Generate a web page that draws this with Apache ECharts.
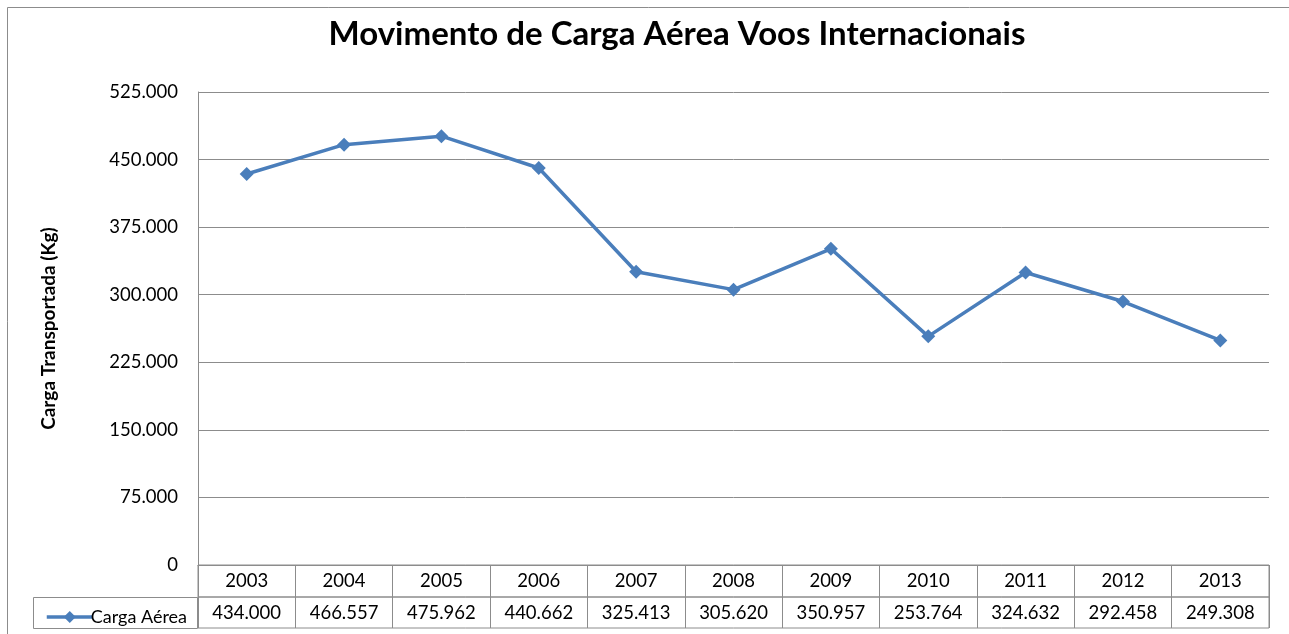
<!DOCTYPE html>
<html>
<head>
<meta charset="utf-8">
<script src="https://cdn.jsdelivr.net/npm/echarts@6/dist/echarts.min.js"></script>
<style>
  html, body { margin: 0; padding: 0; background: #fff; }
  #chart { width: 1289px; height: 634px; }
</style>
</head>
<body>
<div id="chart"></div>
<script>
// dados
var anos = ["2003", "2004", "2005", "2006", "2007", "2008", "2009", "2010", "2011", "2012", "2013"];
var cargaAerea = [434000, 466557, 475962, 440662, 325413, 305620, 350957, 253764, 324632, 292458, 249308];
var yTicks = { min: 0, max: 525000, step: 75000 };

// 434000 -> "434.000"
function fmt(v) {
  return String(v).replace(/\B(?=(\d{3})+(?!\d))/g, ".");
}

var myChart = echarts.init(document.getElementById("chart"));
var gray = "#8c8c8c";
var font = "Lato, 'Open Sans', sans-serif";

var option = {
  backgroundColor: "#fff",
  textStyle: { fontFamily: font },
  title: {
    text: "Movimento de Carga Aérea Voos Internacionais",
    left: 672,
    top: 13,
    textAlign: "center",
    textStyle: { fontSize: 33, fontWeight: "bold", color: "#000", fontFamily: font }
  },
  legend: {
    left: 40,
    top: 603,
    itemWidth: 46,
    itemHeight: 15,
    itemGap: 4,
    data: ["Carga Aérea"],
    lineStyle: { width: 3.5 },
    textStyle: { fontSize: 18, color: "#000", padding: [0, 0, 0, -7] }
  },
  graphic: [
    // moldura da área do gráfico
    { type: "rect", shape: { x: 7.5, y: 7.5, width: 1330, height: 700 },
      style: { fill: "none", stroke: gray, lineWidth: 1 }, silent: true },
    // célula da legenda na tabela
    { type: "rect", shape: { x: 33.5, y: 597.5, width: 164, height: 31 },
      style: { fill: "none", stroke: gray, lineWidth: 1 }, silent: true }
  ],
  grid: [
    { left: 198, top: 92, width: 1071, height: 473 },
    { left: 198, top: 565, width: 1071, height: 32, show: true, borderColor: gray, borderWidth: 1 },
    { left: 198, top: 597, width: 1071, height: 31, show: true, borderColor: gray, borderWidth: 1 }
  ],
  xAxis: [
    {
      gridIndex: 0, type: "category", data: anos, boundaryGap: true,
      axisLine: { lineStyle: { color: gray } },
      axisTick: { show: false }, axisLabel: { show: false }, splitLine: { show: false }
    },
    {
      gridIndex: 1, type: "category", data: anos, boundaryGap: true,
      axisLine: { show: false }, axisTick: { show: false },
      axisLabel: { inside: true, margin: 16, verticalAlign: "middle", interval: 0, fontSize: 18.5, color: "#000" },
      splitLine: { show: true, interval: 0, lineStyle: { color: gray } }
    },
    {
      gridIndex: 2, type: "category", data: cargaAerea.map(fmt), boundaryGap: true,
      axisLine: { show: false }, axisTick: { show: false },
      axisLabel: { inside: true, margin: 15, verticalAlign: "middle", interval: 0, fontSize: 18.5, color: "#000" },
      splitLine: { show: true, interval: 0, lineStyle: { color: gray } }
    }
  ],
  yAxis: [
    {
      gridIndex: 0, type: "value",
      min: yTicks.min, max: yTicks.max, interval: yTicks.step,
      name: "Carga Transportada (Kg)",
      nameLocation: "middle",
      nameGap: 140,
      nameTextStyle: { fontSize: 19, fontWeight: "bold", color: "#000" },
      axisLine: { show: true, lineStyle: { color: gray } },
      axisTick: { show: false },
      axisLabel: { margin: 20, fontSize: 18.5, color: "#000", formatter: fmt },
      splitLine: { lineStyle: { color: gray } }
    },
    { gridIndex: 1, type: "value", show: false },
    { gridIndex: 2, type: "value", show: false }
  ],
  series: [
    {
      name: "Carga Aérea",
      type: "line",
      xAxisIndex: 0,
      yAxisIndex: 0,
      data: cargaAerea,
      symbol: "diamond",
      symbolSize: 14,
      lineStyle: { color: "#4a7ebb", width: 3.5 },
      itemStyle: { color: "#4a7ebb" },
      animation: false
    }
  ]
};

myChart.setOption(option);
window.addEventListener("resize", function () {
  myChart.resize();
});
</script>
</body>
</html>
